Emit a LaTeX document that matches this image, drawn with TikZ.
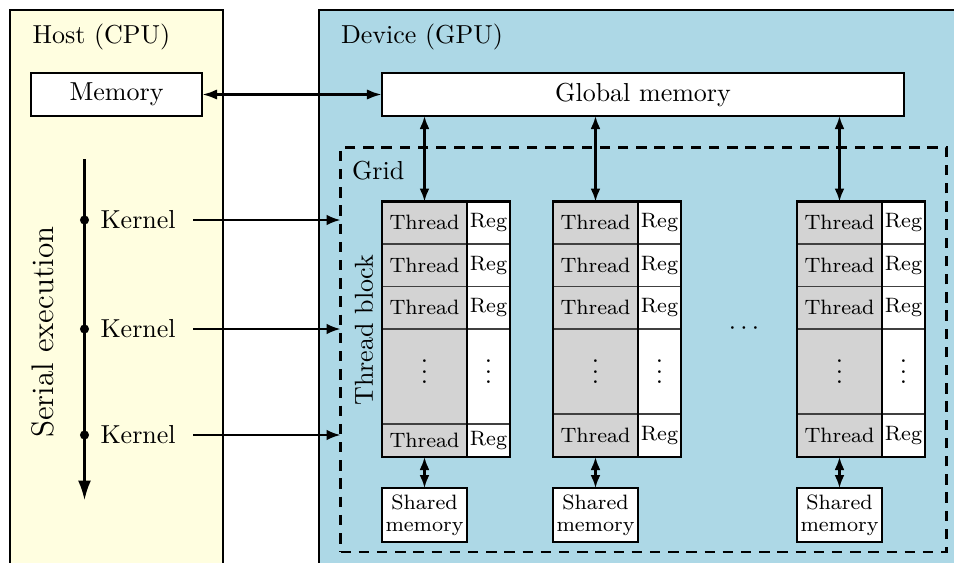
\documentclass[tikz,border=0pt]{standalone}
\usetikzlibrary{arrows.meta}
\definecolor{hostc}{RGB}{255,254,224}
\definecolor{devc}{RGB}{173,216,230}
\definecolor{thrc}{RGB}{211,211,211}
\def\u{0.3846pt}
\tikzset{
  box/.style={draw, thick, fill=white, inner sep=0pt, outer sep=0pt},
  cellbase/.style={draw=black!75, thin, inner sep=0pt, outer sep=0pt, font=\footnotesize, anchor=north west},
  tcell/.style={cellbase, fill=thrc, minimum width=85*\u},
  rcell/.style={cellbase, fill=white, minimum width=43*\u},
  arr/.style={thick, -{Latex[length=5.3pt,width=4pt]}},
  dbl/.style={thick, {Latex[length=5pt,width=3.8pt]}-{Latex[length=5pt,width=3.8pt]}},
  kdot/.style={circle, fill=black, inner sep=0pt, minimum size=3.5pt},
}
\newcommand{\tblock}[3]{%
  \node[tcell, minimum height=42.5*\u] (#1t1) at (#2,201.5) {Thread};
  \node[rcell, minimum height=42.5*\u] (#1r1) at (#1t1.north east) {Reg};
  \node[tcell, minimum height=42.5*\u] (#1t2) at (#2,244) {Thread};
  \node[rcell, minimum height=42.5*\u] (#1r2) at (#1t2.north east) {Reg};
  \node[tcell, minimum height=42.5*\u] (#1t3) at (#2,286.5) {Thread};
  \node[rcell, minimum height=42.5*\u] (#1r3) at (#1t3.north east) {Reg};
  \node[tcell, minimum height=(#3-329)*\u] (#1t4) at (#2,329) {};
  \node[rcell, minimum height=(#3-329)*\u] (#1r4) at (#1t4.north east) {};
  \coordinate (#1vy) at (0,364);
  \node[inner sep=0pt] (#1v1) at (#1t4.center |- #1vy) {$\vdots$};
  \node[inner sep=0pt] (#1v2) at (#1r4.center |- #1vy) {$\vdots$};
  \node[tcell, minimum height=(457-#3)*\u] (#1t5) at (#2,#3) {Thread};
  \node[rcell, minimum height=(457-#3)*\u] (#1r5) at (#1t5.north east) {Reg};
  \draw[thick] (#1t1.north west) rectangle (#1r5.south east);
  \draw[thick] (#1t1.north east) -- (#1t5.south east);
  \node[box, font=\footnotesize, align=center, minimum width=85*\u, minimum height=54*\u, anchor=north] (#1s) at ([yshift=-31*\u]#1t5.south) {Shared\\[-1pt]memory};
  \draw[dbl] (#1t5.south) -- (#1s.north);
  \draw[dbl] (gmem.south -| #1t1.north) -- (#1t1.north);
}
\begin{document}
\begin{tikzpicture}[x=0.3846pt, y=-0.3846pt]
\useasboundingbox (0,0) rectangle (954,562);
\clip (0,0) rectangle (954,562);
% host
\node[draw, thick, fill=hostc, inner sep=0pt, outer sep=0pt, anchor=north west, minimum width=213*\u, minimum height=620*\u] (host) at (10,10) {};
\node[anchor=base west, inner sep=0pt] (hostlbl) at (32,43) {Host (CPU)};
\node[box, minimum width=171*\u, minimum height=43*\u] (mem) at (116.5,94.5) {Memory};
% device
\node[draw, thick, fill=devc, inner sep=0pt, outer sep=0pt, anchor=north west, minimum width=700*\u, minimum height=620*\u] (dev) at (319,10) {};
\node[anchor=base west, inner sep=0pt] (devlbl) at (340.5,43) {Device (GPU)};
\node[box, minimum width=522*\u, minimum height=43*\u] (gmem) at (643,94.5) {Global memory};
\draw[line width=1.1pt, {Latex[length=5.8pt,width=4pt]}-{Latex[length=5.8pt,width=4pt]}] (mem.east) -- (gmem.west);
% grid
\node[draw, thick, dash pattern=on 4pt off 3pt, inner sep=0pt, outer sep=0pt, minimum width=606*\u, minimum height=404.5*\u] (grid) at (643.5,349.75) {};
\node[anchor=base west, inner sep=0pt] (gridlbl) at (351.5,179) {Grid};
\node[rotate=90, inner sep=0pt] (tblbl) at (364,330) {Thread block};
% thread blocks
\tblock{a}{382}{424}
\tblock{b}{553}{414}
\tblock{c}{797}{414}
\node[inner sep=0pt] (hdots) at (744,329) {$\cdots$};
% serial execution
\coordinate (st) at (84.5,159);
\coordinate (en) at (84.5,500);
\draw[thick, -{Latex[length=7.5pt,width=5pt]}] (st) -- (en);
\node[rotate=90, font=\large, inner sep=0pt] (serial) at (43,332) {Serial execution};
\foreach \n/\yy in {1/220, 2/329, 3/435} {
  \node[kdot] (d\n) at (84.5,\yy) {};
  \node[anchor=west, inner sep=0pt] (k\n) at (100,\yy) {Kernel};
  \draw[arr] ([xshift=17*\u]k\n.east) -- (k\n.east -| grid.west);
}
\end{tikzpicture}
\end{document}
